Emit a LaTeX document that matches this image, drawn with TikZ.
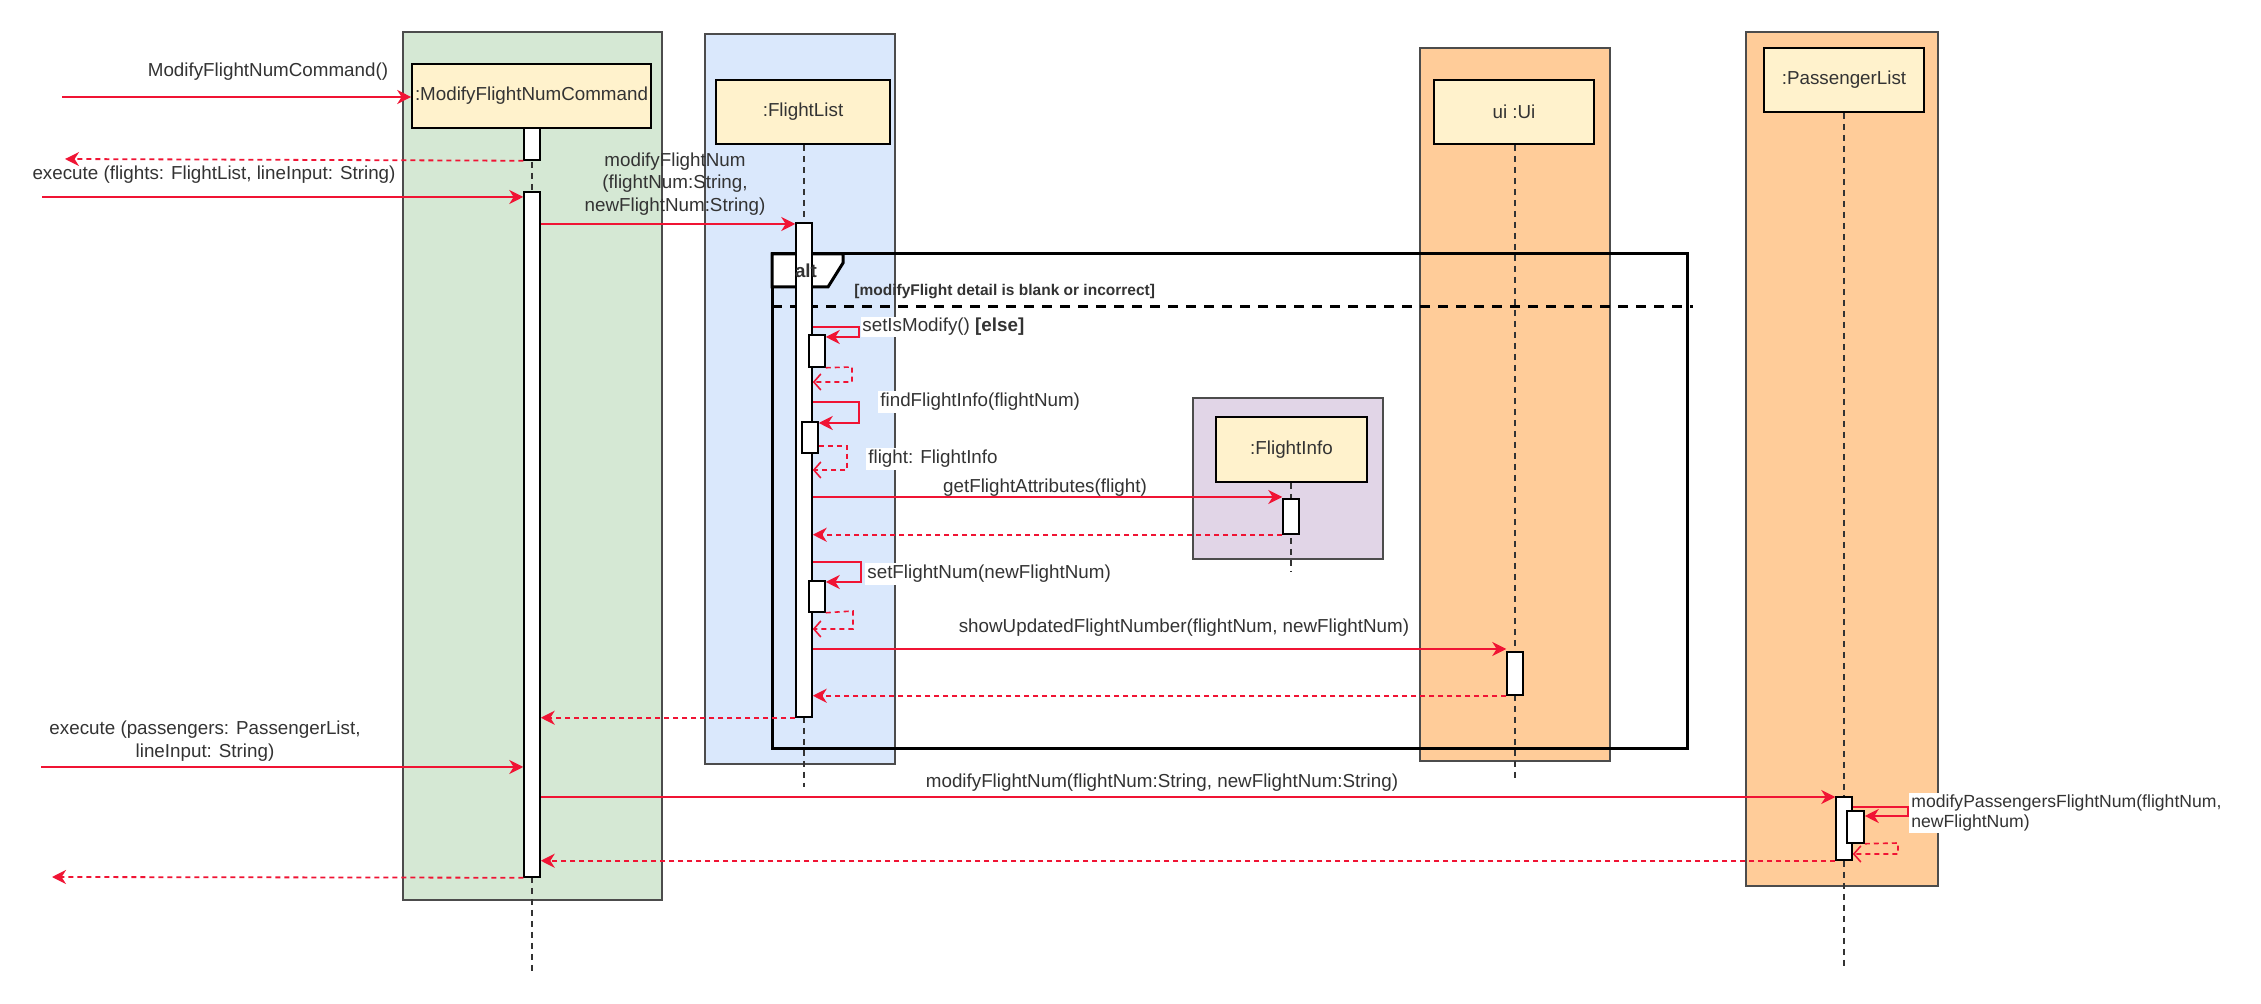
\documentclass[tikz,border=0pt]{standalone}
\usepackage{fontspec}
\setmainfont{Liberation Sans}
\usetikzlibrary{arrows.meta}
\definecolor{gfill}{HTML}{D5E8D4}
\definecolor{bfill}{HTML}{DAE8FC}
\definecolor{ofill}{HTML}{FFCC99}
\definecolor{pfill}{HTML}{E1D5E7}
\definecolor{headc}{HTML}{FFF2CC}
\definecolor{arrred}{HTML}{F01434}
\definecolor{txtc}{HTML}{333333}
\newcommand{\sqfont}{\fontsize{9.4pt}{11.25pt}\selectfont}
\tikzset{
  sqgrp/.style={draw=black!70, line width=0.75pt},
  sqhead/.style={draw=black, fill=headc, line width=0.8pt, text=txtc, inner sep=0pt, font=\sqfont},
  sqact/.style={draw=black, fill=white, line width=0.75pt, minimum width=8pt, inner sep=0pt},
  sqlife/.style={draw=black!80, line width=0.7pt, dash pattern=on 3pt off 2.5pt},
  sqmsg/.style={draw=arrred, line width=0.9pt, -{Stealth[length=7pt,width=7pt,inset=2.2pt]}},
  sqret/.style={sqmsg, dash pattern=on 2.5pt off 2pt},
  sqsret/.style={draw=arrred, line width=0.8pt, dash pattern=on 2.5pt off 2pt, -{Straight Barb[length=3.5pt,width=8pt]}},
  sqself/.style={draw=arrred, line width=0.9pt, -{Stealth[length=7pt,width=7pt,inset=2.2pt]}},
  sqlbl/.style={text=txtc, inner sep=1pt, font=\sqfont},
  sqwlbl/.style={sqlbl, fill=white},
}
\begin{document}
\begin{tikzpicture}[x=0.5pt, y=-0.5pt]
\useasboundingbox (0,0) rectangle (2261,1004);
\fill[white] (0,0) rectangle (2261,1004);
% group boxes
\path[sqgrp, fill=gfill] (403,32) rectangle (662,900);
\path[sqgrp, fill=bfill] (705,34) rectangle (895,764);
\path[sqgrp, fill=ofill] (1420,48) rectangle (1610,761);
\path[sqgrp, fill=ofill] (1746,32) rectangle (1938,886);
\path[sqgrp, fill=pfill] (1193,398) rectangle (1383,559);
% heads
\node[sqhead, minimum width=119.5pt, minimum height=32pt] (mfc) at (531.5,96) {:ModifyFlightNumCommand};
\node[sqhead, minimum width=87pt, minimum height=32pt] (fl) at (803,112) {:FlightList};
\node[sqhead, minimum width=80pt, minimum height=32pt] (ui) at (1514,112) {ui :Ui};
\node[sqhead, minimum width=80pt, minimum height=32pt] (pl) at (1844,80) {:PassengerList};
\node[sqhead, minimum width=75.5pt, minimum height=32.5pt] (fi) at (1291.5,449.5) {:FlightInfo};
% lifeline ends
\coordinate (mfcEnd) at (532,973);
\coordinate (flEnd) at (804,787);
\coordinate (uiEnd) at (1515,780);
\coordinate (plEnd) at (1844,968);
\coordinate (fiEnd) at (1291,572);
\draw[sqlife] (mfc.south -| 532,0) -- (mfcEnd);
\draw[sqlife] (fl.south -| 804,0) -- (flEnd);
\draw[sqlife] (ui.south -| 1515,0) -- (uiEnd);
\draw[sqlife] (pl.south -| 1844,0) -- (plEnd);
\draw[sqlife] (fi.south -| 1291,0) -- (fiEnd);
% alt frame
\draw[line width=1.5pt] (772,254) rectangle (1687,749);
\draw[line width=1.5pt, fill=white] (772,254) -- (843,254) -- (843,263) -- (828,287) -- (772,287) -- cycle;
\draw[line width=1.5pt, dash pattern=on 5pt off 4pt] (772,307) -- (1693,307);
% activations
\node[sqact, minimum height=16pt] (mA1) at (532,144) {};
\node[sqact, minimum height=342.5pt] (mA2) at (532,534.5) {};
\node[sqact, minimum height=247pt] (fA1) at (804,470) {};
\node[sqact, minimum height=16pt] (fA2) at (817,351) {};
\node[sqact, minimum height=15.5pt] (fA3) at (810,437.5) {};
\node[sqact, minimum height=15.5pt] (fA4) at (817,596.5) {};
\node[sqact, minimum height=17.5pt] (fiA) at (1291,516.5) {};
\node[sqact, minimum height=21.5pt] (uiA) at (1515,673.5) {};
\node[sqact, minimum height=31.5pt] (pA1) at (1844,828.5) {};
\node[sqact, minimum height=16pt, minimum width=8.5pt] (pA2) at (1855.5,827) {};
% free ends
\coordinate (in1) at (62,97);
\coordinate (out1) at (65,159);
\coordinate (in2) at (42,197);
\coordinate (in3) at (41,767);
\coordinate (out2) at (52,877);
% messages
\draw[sqmsg] (in1) -- (mfc.west |- in1);
\draw[sqret] (mA1.south west) -- (out1);
\draw[sqmsg] (in2) -- (mA2.west |- in2);
\draw[sqmsg] (mA2.east |- 0,224) -- (fA1.west |- 0,224);
% setIsModify
\draw[sqself] (fA1.east |- 0,327) -- (859,327) -- (859,337) -- (fA2.east |- 0,337);
\draw[sqsret] (fA2.south east) -- (852,367) -- (852,382) -- (fA1.east |- 0,382);
% findFlightInfo
\draw[sqself] (fA1.east |- 0,402) -- (859,402) -- (859,423) -- (fA3.east |- 0,423);
\draw[sqsret] (fA3.east |- 0,446) -- (847,446) -- (847,470) -- (fA1.east |- 0,470);
% getFlightAttributes
\draw[sqmsg] (fA1.east |- 0,497) -- (fiA.west |- 0,497);
\draw[sqret] (fiA.south west) -- (fA1.east |- fiA.south west);
% setFlightNum
\draw[sqself] (fA1.east |- 0,562) -- (861,562) -- (861,582) -- (fA4.east |- 0,582);
\draw[sqsret] (fA4.south east) -- (853,611) -- (853,629) -- (fA1.east |- 0,629);
% showUpdatedFlightNumber
\draw[sqmsg] (fA1.east |- 0,649) -- (uiA.west |- 0,649);
\draw[sqret] (uiA.south west) -- (fA1.east |- uiA.south west);
\draw[sqret] (fA1.south west) -- (mA2.east |- fA1.south west);
% passengers
\draw[sqmsg] (in3) -- (mA2.west |- in3);
\draw[sqmsg] (mA2.east |- 0,797) -- (pA1.west |- 0,797);
\draw[sqself] (pA1.east |- 0,807) -- (1908,807) -- (1908,816) -- (pA2.east |- 0,816);
\draw[sqsret] (pA2.south east) -- (1898,843) -- (1898,854) -- (pA1.east |- 0,854);
\draw[sqret] (pA1.south west) -- (mA2.east |- pA1.south west);
\draw[sqret] (mA2.south west) -- (out2);
% labels
\node[sqlbl] (l1) at (268,72) {ModifyFlightNumCommand()};
\node[sqlbl] (l2) at (214,175) {execute (flights: FlightList, lineInput: String)};
\node[sqlbl, align=center] (l3) at (675,184) {modifyFlightNum\\(flightNum:String,\\newFlightNum:String)};
\node[sqlbl, font=\bfseries\sqfont] (lalt) at (806,271) {alt};
\node[sqlbl, anchor=west, font=\bfseries\fontsize{7.75pt}{9pt}\selectfont] (lguard) at (852,292) {[modifyFlight detail is blank or incorrect]};
\node[sqwlbl, anchor=west, inner sep=0.5pt] (l4) at (861,327) {setIsModify() \textbf{[else]}};
\node[sqwlbl, anchor=west] (l5) at (878,402) {findFlightInfo(flightNum)};
\node[sqwlbl, anchor=west] (l6) at (866,459) {flight: FlightInfo};
\node[sqlbl] (l7) at (1045,488) {getFlightAttributes(flight)};
\node[sqwlbl, anchor=west] (l8) at (865,574) {setFlightNum(newFlightNum)};
\node[sqlbl] (l9) at (1184,628) {showUpdatedFlightNumber(flightNum, newFlightNum)};
\node[sqlbl, align=center] (l10) at (205,741) {execute (passengers: PassengerList,\\lineInput: String)};
\node[sqlbl] (l11) at (1162,783) {modifyFlightNum(flightNum:String, newFlightNum:String)};
\node[sqwlbl, anchor=west, align=left, font=\fontsize{8.8pt}{10pt}\selectfont] (l12) at (1909,813) {modifyPassengersFlightNum(flightNum,\\newFlightNum)};
\end{tikzpicture}
\end{document}
